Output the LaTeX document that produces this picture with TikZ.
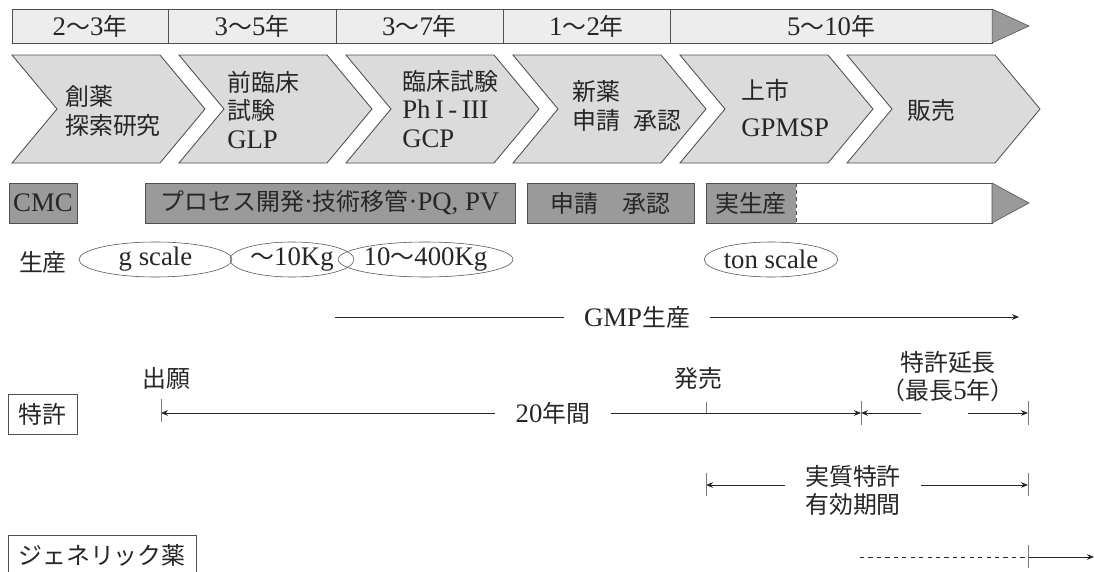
\documentclass[tikz,border=0pt]{standalone}
\usepackage{fontspec}
\setmainfont{Liberation Serif}[Scale=1.12]
\newfontfamily\jp{Noto Sans CJK JP}
\newcommand{\J}[1]{{\jp #1}}
\usetikzlibrary{arrows.meta,shapes.geometric}

\definecolor{barfill}{HTML}{EDEDED}
\definecolor{chevfill}{HTML}{DBDBDB}
\definecolor{darkfill}{HTML}{9A9A9A}
\definecolor{edge}{HTML}{505050}
\definecolor{ink}{HTML}{262626}
\definecolor{tickgray}{HTML}{7A7A7A}

\begin{document}
\begin{tikzpicture}[
    x=0.025cm, y=-0.025cm,
    font=\fontsize{17}{20}\selectfont,
    every node/.style={text=ink},
    cell/.style={draw=edge, fill=barfill, minimum height=0.85cm, inner sep=0, outer sep=0},
    chev/.style={draw=edge, fill=chevfill, line width=0.6pt, line join=miter},
    stage/.style={anchor=west, align=left, inner sep=0},
    darkbox/.style={draw=edge, fill=darkfill, minimum height=1cm, inner sep=0, outer sep=0},
    framebox/.style={draw=edge, minimum height=1cm, inner sep=0},
    scale ell/.style={ellipse, draw=edge, minimum height=0.875cm, inner sep=0},
    gap/.style={inner xsep=0.5cm, inner ysep=0, align=center},
    line/.style={draw=ink, line width=0.6pt},
    tick/.style={draw=tickgray, line width=0.7pt},
    >={Stealth[length=5pt,width=4pt]}
]
\useasboundingbox (0,0) rectangle (1094,572);

% --- Jahresleiste oben ---
\node[cell, minimum width=3.9cm]   (yr1) at (90,26)    {2\J{〜}3\J{年}};
\node[cell, minimum width=4.2cm]   (yr2) at (252,26)   {3\J{〜}5\J{年}};
\node[cell, minimum width=4.175cm] (yr3) at (419.5,26) {3\J{〜}7\J{年}};
\node[cell, minimum width=4.175cm] (yr4) at (586.5,26) {1\J{〜}2\J{年}};
\node[cell, minimum width=8.05cm]  (yr5) at (831,26)   {5\J{〜}10\J{年}};
\filldraw[fill=darkfill, draw=edge] (yr5.north east) -- (1029,26) -- (yr5.south east) -- cycle;

% --- Phasen (Pfeile) ---
\foreach \x in {12,179,346,513,680,847}
  \draw[chev] (\x,55) -- ++(148,0) -- ++(45,54) -- ++(-45,54) -- ++(-148,0) -- ++(45,-54) -- cycle;

\node[stage] (st1) at (65,111)  {\J{創薬}\\\J{探索研究}};
\node[stage] (st2) at (227,110) {\J{前臨床}\\\J{試験}\\GLP};
\node[stage] (st3) at (402,109) {\J{臨床試験}\\Ph\,I\,-\,III\\GCP};
\node[stage] (st4) at (572,106) {\J{新薬}\\\J{申請}\enspace\J{承認}};
\node[stage] (st5) at (741,108) {\J{上市}\\[6pt]GPMSP};
\node[stage] (st6) at (907,110) {\J{販売}};

% --- CMC ---
\node[darkbox, minimum width=1.7cm]   (cmc)  at (43,203)    {CMC};
\node[darkbox, minimum width=9.25cm]  (proc) at (330,203)   {\J{プロセス開発}·\J{技術移管}·PQ, PV};
\node[darkbox, minimum width=4.175cm] (appr) at (610.5,203) {\J{申請　承認}};
\node[darkbox, draw=none, minimum width=2.25cm] (prod) at (751,203) {\J{実生産}};
\coordinate (prodend) at (992,203);
\draw[edge] (prod.north west) rectangle (prodend |- prod.south);
\draw[edge, densely dashed] (prod.north east) -- (prod.south east);
\filldraw[fill=darkfill, draw=edge] (prodend |- prod.north) -- (1029,203) -- (prodend |- prod.south) -- cycle;

% --- Produktion ---
\node (mfg) at (43,262) {\J{生産}};
\node[scale ell, minimum width=3.825cm] (sc1) at (155.5,259.5) {g scale};
\node[scale ell, minimum width=3.1cm]   (sc2) at (292,259.5)   {\J{〜}10Kg};
\node[scale ell, minimum width=3.625cm] (sc3) at (425.5,259.5) {10\J{〜}400Kg};
\node[scale ell, minimum width=3.3cm]   (sc4) at (771,259.5)   {ton scale};

% --- GMP ---
\coordinate (gmpa) at (335,317);
\coordinate (gmpb) at (1019,317);
\node[gap] (gmp) at (637,317) {GMP\J{生産}};
\draw[line] (gmpa) -- (gmp.west);
\draw[line, ->] (gmp.east) -- (gmpb);

% --- Patent ---
\node[framebox, minimum width=1.725cm] (pat) at (42.5,414) {\J{特許}};
\node (filing) at (166,378) {\J{出願}};
\node (launch) at (698,378) {\J{発売}};
\node[align=center] (ext) at (948,377) {\J{特許延長}\\\J{（最長}5\J{年）}};

\coordinate (pf) at (161,413);
\coordinate (pl) at (706,413);
\coordinate (pe) at (861,413);
\coordinate (px) at (1028,413);
\coordinate (exl) at (921,413);
\coordinate (exr) at (968,413);

\node[gap] (yrs) at (553,413) {20\J{年間}};
\draw[line, <-] (pf) -- (yrs.west);
\draw[line, ->] (yrs.east) -- (pe);
\draw[line, <-] (pe) -- (exl);
\draw[line, ->] (exr) -- (px);

\draw[tick] (pf) ++(0,-14) -- ++(0,23);
\draw[tick] (pl) -- ++(0,-11);
\draw[tick] (pe) ++(0,-12) -- ++(0,24);
\draw[tick] (px) ++(0,-12) -- ++(0,24);

% --- effektive Laufzeit ---
\coordinate (efa) at (706,485);
\coordinate (efb) at (1028,485);
\node[gap] (eff) at (853,490) {\J{実質特許}\\\J{有効期間}};
\draw[line, <-] (efa) -- (eff.west |- efa);
\draw[line, ->] (eff.east |- efb) -- (efb);
\draw[tick] (efa) ++(0,-12) -- ++(0,23);
\draw[tick] (efb) ++(0,-12) -- ++(0,23);

% --- Generika ---
\node[framebox, minimum width=4.7cm] (gen) at (102,555) {\J{ジェネリック薬}};
\coordinate (gna) at (860,557);
\coordinate (gnb) at (1028,557);
\coordinate (gnc) at (1094,557);
\draw[line, dashed] (gna) -- (gnb);
\draw[line, ->] (gnb) -- (gnc);
\draw[tick] (gnb) ++(0,-12) -- ++(0,23);

\end{tikzpicture}
\end{document}
